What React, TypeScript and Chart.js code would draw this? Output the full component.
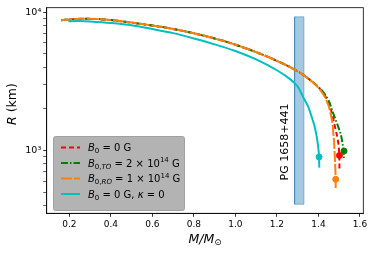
import React, { useEffect, useRef } from 'react';
import { Chart, registerables } from 'chart.js';
Chart.register(...registerables);

// ---- data ----
const massB0 = [0.16, 0.2, 0.26, 0.35, 0.45, 0.55, 0.65, 0.75, 0.85, 0.95, 1.05, 1.15, 1.25, 1.32, 1.38, 1.42, 1.452, 1.468, 1.48, 1.49, 1.496, 1.5, 1.501, 1.501];
const radiusB0 = [8750, 8850, 8950, 8900, 8600, 8200, 7800, 7300, 6750, 6150, 5480, 4800, 4100, 3580, 3050, 2650, 2170, 1780, 1472, 1270, 1117, 960, 850, 740];

const massTO = [0.16, 0.2, 0.26, 0.35, 0.45, 0.55, 0.65, 0.75, 0.85, 0.95, 1.05, 1.15, 1.25, 1.32, 1.38, 1.42, 1.45, 1.472, 1.49, 1.507, 1.515, 1.52, 1.522, 1.522];
const radiusTO = [8750, 8850, 8950, 8900, 8600, 8200, 7800, 7300, 6750, 6150, 5480, 4800, 4100, 3580, 3060, 2680, 2280, 1836, 1560, 1318, 1150, 1000, 900, 848];

const massRO = [0.16, 0.2, 0.26, 0.35, 0.45, 0.55, 0.65, 0.75, 0.85, 0.95, 1.05, 1.15, 1.25, 1.32, 1.38, 1.41, 1.432, 1.45, 1.459, 1.467, 1.472, 1.476, 1.478, 1.481, 1.483, 1.483];
const radiusRO = [8750, 8850, 8950, 8900, 8600, 8200, 7800, 7300, 6750, 6150, 5480, 4800, 4100, 3580, 3050, 2720, 2420, 2080, 1836, 1580, 1318, 1100, 946, 760, 618, 530];

const massK0 = [0.195, 0.25, 0.3, 0.4, 0.5, 0.6, 0.7, 0.8, 0.9, 1.0, 1.1, 1.2, 1.263, 1.3, 1.327, 1.35, 1.368, 1.382, 1.392, 1.399, 1.403, 1.404];
const radiusK0 = [8600, 8620, 8560, 8350, 8050, 7550, 7050, 6450, 5850, 5240, 4550, 3800, 3280, 2900, 2420, 2080, 1738, 1480, 1248, 1050, 896, 751];

// end-point markers: B0=0, TO, RO, kappa=0
const dotMass = [1.501, 1.523, 1.483, 1.403];
const dotRadius = [920, 990, 618, 896];

// observational band PG 1658+441
const bandMass = [1.285, 1.33];
const bandRadius = [408, 9250];
const bandLabel = 'PG 1658+441';

const xTicks = [0.2, 0.4, 0.6, 0.8, 1.0, 1.2, 1.4, 1.6];
const yTicks = [400, 500, 600, 700, 800, 900, 1000, 2000, 3000, 4000, 5000, 6000, 7000, 8000, 9000, 10000];

const seriesColors = ['#ff0000', '#008000', '#ff7f0e', '#00bfbf'];
const seriesDash = [[5, 3], [7, 2, 1.5, 2], [11, 2], []];

type Seg = { t: string; it?: boolean; sub?: boolean; sup?: boolean };
const legendLabels: Seg[][] = [
  [{ t: 'B', it: true }, { t: '0', sub: true }, { t: ' = 0 G' }],
  [{ t: 'B', it: true }, { t: '0,', sub: true }, { t: 'TO', sub: true, it: true }, { t: ' = 2 × 10' }, { t: '14', sup: true }, { t: ' G' }],
  [{ t: 'B', it: true }, { t: '0,', sub: true }, { t: 'RO', sub: true, it: true }, { t: ' = 1 × 10' }, { t: '14', sup: true }, { t: ' G' }],
  [{ t: 'B', it: true }, { t: '0', sub: true }, { t: ' = 0 G, ' }, { t: 'κ', it: true }, { t: ' = 0' }],
];

const FF = 'DejaVu Sans';

function segFont(s: Seg, size: number) {
  const sz = s.sub || s.sup ? size * 0.7 : size;
  return `${s.it ? 'italic ' : ''}${sz}px "${FF}"`;
}
function richWidth(ctx: CanvasRenderingContext2D, segs: Seg[], size: number) {
  let w = 0;
  for (const s of segs) {
    ctx.font = segFont(s, size);
    w += ctx.measureText(s.t).width;
  }
  return w;
}
function drawRich(ctx: CanvasRenderingContext2D, x: number, y: number, segs: Seg[], size: number) {
  ctx.textBaseline = 'alphabetic';
  ctx.textAlign = 'left';
  let cx = x;
  for (const s of segs) {
    ctx.font = segFont(s, size);
    const dy = s.sub ? size * 0.22 : s.sup ? -size * 0.42 : 0;
    ctx.fillText(s.t, cx, y + dy);
    cx += ctx.measureText(s.t).width;
  }
}

const decorPlugin = {
  id: 'decor',
  afterDraw(chart: any) {
    const ctx: CanvasRenderingContext2D = chart.ctx;
    const a = chart.chartArea;
    ctx.save();
    // frame
    ctx.strokeStyle = '#000';
    ctx.lineWidth = 0.8;
    ctx.strokeRect(a.left, a.top, a.right - a.left, a.bottom - a.top);

    // band label
    const xs = chart.scales.x;
    ctx.fillStyle = '#000';
    ctx.save();
    ctx.translate(xs.getPixelForValue(1.24), 142);
    ctx.rotate(-Math.PI / 2);
    ctx.font = `11px "${FF}"`;
    ctx.textAlign = 'center';
    ctx.textBaseline = 'middle';
    ctx.fillText(bandLabel, 0, 0);
    ctx.restore();

    // legend
    const lx = 53, ly = 136, lw = 131, lh = 74;
    ctx.beginPath();
    (ctx as any).roundRect(lx + 0.5, ly + 0.5, lw, lh, 2);
    ctx.fillStyle = '#b3b3b3';
    ctx.fill();
    ctx.strokeStyle = '#a0a0a0';
    ctx.lineWidth = 1;
    ctx.stroke();
    const rows = [147.5, 163, 178.5, 194];
    legendLabels.forEach((segs, i) => {
      const y = rows[i];
      ctx.beginPath();
      ctx.strokeStyle = seriesColors[i];
      ctx.lineWidth = 2;
      ctx.setLineDash(seriesDash[i]);
      ctx.moveTo(61, y);
      ctx.lineTo(80, y);
      ctx.stroke();
      ctx.setLineDash([]);
      ctx.fillStyle = '#000';
      drawRich(ctx, 88, y + 3.5, segs, 10);
    });

    // axis titles
    const xt: Seg[] = [{ t: 'M/M', it: true }, { t: '⊙', sub: true }];
    const w = richWidth(ctx, xt, 12.5);
    drawRich(ctx, (a.left + a.right) / 2 - w / 2, 242.5, xt, 12.5);

    const yt: Seg[] = [{ t: 'R', it: true }, { t: ' (km)' }];
    const wy = richWidth(ctx, yt, 12.5);
    ctx.save();
    ctx.translate(16, 104);
    ctx.rotate(-Math.PI / 2);
    drawRich(ctx, -wy / 2, 0, yt, 12.5);
    ctx.restore();
    ctx.restore();
  },
};

export default function App() {
  const ref = useRef<HTMLCanvasElement>(null);
  useEffect(() => {
    document.body.style.margin = '0';
    const ctx = ref.current!.getContext('2d')!;
    const mk = (ms: number[], rs: number[]) => ms.map((m, i) => ({ x: m, y: rs[i] }));
    const lineDs = (label: string, ms: number[], rs: number[], i: number, order: number) => ({
      type: 'line' as const,
      label,
      data: mk(ms, rs),
      borderColor: seriesColors[i],
      borderDash: seriesDash[i],
      borderWidth: 2,
      pointRadius: 0,
      tension: 0.2,
      fill: false,
      order,
    });
    const bandData = [
      { x: bandMass[0], y: bandRadius[0] },
      { x: bandMass[1], y: bandRadius[0] },
      { x: bandMass[1], y: bandRadius[1] },
      { x: bandMass[0], y: bandRadius[1] },
      { x: bandMass[0], y: bandRadius[0] },
    ];
    const chart = new Chart(ctx, {
      type: 'line',
      data: {
        datasets: [
          {
            type: 'line',
            label: bandLabel,
            data: bandData,
            borderColor: 'rgba(31,119,180,0.45)',
            backgroundColor: 'rgba(31,119,180,0.4)',
            borderWidth: 1,
            pointRadius: 0,
            tension: 0,
            fill: 'shape',
            order: 10,
          } as any,
          lineDs('B0 = 0 G', massB0, radiusB0, 0, 5),
          lineDs('B0,TO = 2e14 G', massTO, radiusTO, 1, 4),
          lineDs('B0,RO = 1e14 G', massRO, radiusRO, 2, 3),
          lineDs('B0 = 0 G, kappa = 0', massK0, radiusK0, 3, 2),
          {
            type: 'scatter',
            label: 'ends',
            data: mk(dotMass, dotRadius),
            backgroundColor: seriesColors,
            borderColor: seriesColors,
            pointRadius: 3,
            pointHoverRadius: 3,
            showLine: false,
            order: 0,
          } as any,
        ],
      },
      options: {
        responsive: false,
        animation: false,
        events: [],
        layout: { padding: { left: 0, top: 6.7, right: 10.7, bottom: 0 } },
        plugins: { legend: { display: false }, tooltip: { enabled: false }, title: { display: false } },
        scales: {
          x: {
            type: 'linear',
            min: 0.091,
            max: 1.616,
            afterBuildTicks: (s: any) => { s.ticks = xTicks.map((v) => ({ value: v })); },
            afterFit: (s: any) => { s.height = 39.7; },
            ticks: {
              autoSkip: false,
              maxRotation: 0,
              padding: 2,
              color: '#000',
              font: { family: FF, size: 9 },
              callback: (v: any) => Number(v).toFixed(1),
            },
            grid: { drawOnChartArea: false, drawTicks: true, tickLength: 3.5, tickColor: '#000', tickWidth: 0.8 },
            border: { color: '#000', width: 0.8 },
          },
          y: {
            type: 'logarithmic',
            min: 351,
            max: 10770,
            afterBuildTicks: (s: any) => { s.ticks = yTicks.map((v) => ({ value: v, major: v === 1000 || v === 10000 })); },
            afterFit: (s: any) => { s.width = 46.7; },
            ticks: {
              autoSkip: false,
              padding: 2,
              color: '#000',
              font: { family: FF, size: 9.5 },
              callback: (v: any) => (Number(v) === 1000 ? '10³' : Number(v) === 10000 ? '10⁴' : ''),
            },
            grid: {
              drawOnChartArea: false,
              drawTicks: true,
              tickLength: 3.5,
              tickColor: '#000',
              tickWidth: (c: any) => (c.tick && (c.tick.value === 1000 || c.tick.value === 10000) ? 0.8 : 0.6),
            },
            border: { color: '#000', width: 0.8 },
          },
        },
      } as any,
      plugins: [decorPlugin],
    });
    return () => chart.destroy();
  }, []);
  return (
    <div style={{ width: 374, height: 253, position: 'absolute', left: 0, top: 0, background: '#fff' }}>
      <canvas ref={ref} width={374} height={253} style={{ display: 'block' }} />
    </div>
  );
}
